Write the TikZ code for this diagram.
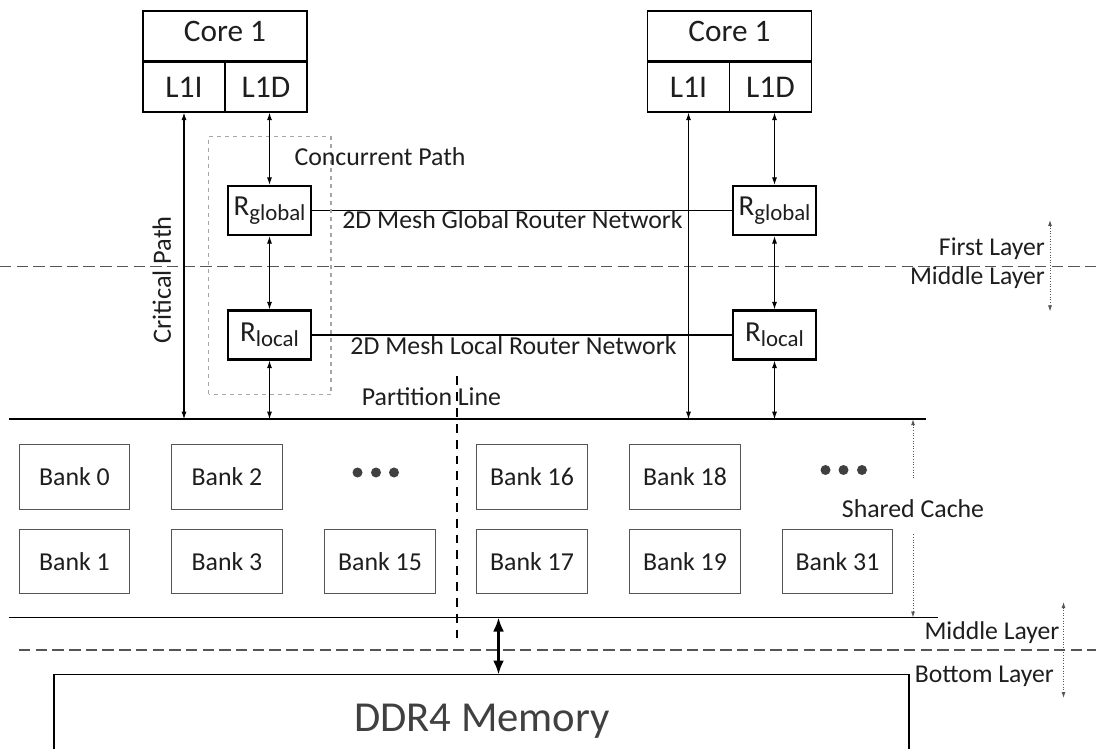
\documentclass[tikz,border=0pt]{standalone}
\usepackage{fontspec}
\setmainfont{Carlito}
\usetikzlibrary{arrows.meta,positioning}
\definecolor{inkgray}{HTML}{1E1E1E}
\definecolor{bankgray}{HTML}{555555}
\definecolor{memgray}{HTML}{404040}
\newcommand{\rsub}[1]{R\raisebox{-0.35ex}{\fontsize{13}{14}\selectfont #1}}

\begin{document}
\begin{tikzpicture}[
    every node/.style={text=inkgray, font=\fontsize{14.7}{17}\selectfont},
    cell/.style={draw=black, line width=0.8pt, inner sep=0pt, minimum height=0.99cm},
    router/.style={draw=black, line width=1.2pt, inner sep=0pt, minimum width=1.65cm,
        minimum height=0.98cm, font=\fontsize{16.5}{18}\selectfont},
    bankbox/.style={draw=bankgray, line width=0.8pt, minimum width=2.21cm, minimum height=1.29cm},
    link/.style={{Latex[length=1.5mm,width=1mm]}-{Latex[length=1.5mm,width=1mm]}, line width=0.6pt},
    span/.style={densely dotted, line width=0.5pt, bankgray},
    layerline/.style={dash pattern=on 6.5pt off 3pt, line width=0.6pt, bankgray},
    labeltxt/.style={font=\fontsize{14.6}{16}\selectfont}
]
    \useasboundingbox (0,0) rectangle (21.92,14.98);

    % Cores with L1 caches
    \node[cell, minimum width=3.28cm, minimum height=1.0cm, font=\fontsize{17.8}{20}\selectfont] (coreL) at (4.50,14.26) {\raisebox{0.6ex}{Core 1}};
    \node[cell, minimum width=1.64cm, anchor=north west, font=\fontsize{18}{20}\selectfont] (l1iL) at (coreL.south west) {L1I};
    \node[cell, minimum width=1.64cm, anchor=north east, font=\fontsize{18}{20}\selectfont] (l1dL) at (coreL.south east) {L1D};
    \node[cell, minimum width=3.28cm, minimum height=1.0cm, font=\fontsize{17.8}{20}\selectfont] (coreR) at (14.59,14.26) {\raisebox{0.6ex}{Core 1}};
    \node[cell, minimum width=1.64cm, anchor=north west, font=\fontsize{18}{20}\selectfont] (l1iR) at (coreR.south west) {L1I};
    \node[cell, minimum width=1.64cm, anchor=north east, font=\fontsize{18}{20}\selectfont] (l1dR) at (coreR.south east) {L1D};

    % Routers
    \node[router] (rgL) at (5.39,10.77) {\rsub{global}};
    \node[router] (rlL) at (5.39,8.28) {\rsub{local}};
    \node[router] (rgR) at (15.49,10.77) {\rsub{global}};
    \node[router] (rlR) at (15.49,8.28) {\rsub{local}};
    \draw[line width=0.7pt] (rgL.east) -- (rgR.west);
    \draw[line width=0.7pt] (rlL.east) -- (rlR.west);
    \node (meshG) at (10.25,10.58) {2D Mesh Global Router Network};
    \node (meshL) at (10.27,8.06) {2D Mesh Local Router Network};

    % Concurrent path box
    \draw[draw=black!35, dash pattern=on 2.3pt off 2.3pt, line width=0.6pt] (4.17,7.09) rectangle (6.62,12.25);
    \node (conc) at (7.60,11.85) {Concurrent Path};

    % Layer boundaries
    \coordinate (layTL) at (0,9.646);
    \coordinate (layTR) at (21.92,9.646);
    \coordinate (layBL) at (0.38,1.98);
    \coordinate (layBR) at (21.92,1.98);
    \draw[layerline] (layTL) -- (layTR);
    \draw[layerline] (layBL) -- (layBR);

    % Shared cache boundaries
    \coordinate (cacheTL) at (0.17,6.596);
    \coordinate (cacheTR) at (18.51,6.596);
    \coordinate (cacheBL) at (0.17,2.63);
    \coordinate (cacheBR) at (18.76,2.63);
    \draw[line width=0.8pt] (cacheTL) -- (cacheTR);
    \draw[line width=0.8pt] (cacheBL) -- (cacheBR);

    % Paths between cores, routers and cache
    \draw[link] (l1iL.south) -- (l1iL.south |- cacheTL);
    \draw[link] (l1iR.south) -- (l1iR.south |- cacheTL);
    \draw[link] (rgL.north |- l1dL.south) -- (rgL.north);
    \draw[link] (rgL.south) -- (rlL.north);
    \draw[link] (rlL.south) -- (rlL.south |- cacheTL);
    \draw[link] (rgR.north |- l1dR.south) -- (rgR.north);
    \draw[link] (rgR.south) -- (rlR.north);
    \draw[link] (rlR.south) -- (rlR.south |- cacheTL);
    \node[rotate=90, font=\fontsize{15}{17}\selectfont] (crit) at (3.234,9.38) {Critical Path};

    % Banks
    \node[bankbox] (b0) at (1.49,5.44) {Bank 0};
    \node[bankbox] (b1) at (1.49,3.75) {Bank 1};
    \node[bankbox] (b2) at (4.54,5.44) {Bank 2};
    \node[bankbox] (b3) at (4.54,3.75) {Bank 3};
    \node[bankbox] (b15) at (7.60,3.75) {Bank 15};
    \node[bankbox] (b16) at (10.64,5.44) {Bank 16};
    \node[bankbox] (b17) at (10.64,3.75) {Bank 17};
    \node[bankbox] (b18) at (13.70,5.44) {Bank 18};
    \node[bankbox] (b19) at (13.70,3.75) {Bank 19};
    \node[bankbox] (b31) at (16.75,3.75) {Bank 31};
    \fill[black!75] (7.15,5.53) circle (0.1) (7.52,5.53) circle (0.1) (7.88,5.53) circle (0.1);
    \fill[black!75] (16.51,5.58) circle (0.1) (16.87,5.58) circle (0.1) (17.24,5.58) circle (0.1);

    % Partition line
    \coordinate (partT) at (9.14,7.45);
    \coordinate (partB) at (9.14,2.22);
    \draw[dash pattern=on 5pt off 4pt, line width=0.6pt] (partT) -- (partB);
    \node (part) at (8.63,7.05) {Partition Line};

    % Shared cache extent
    \node (shared) at (18.26,4.80) {Shared Cache};
    \draw[span, {Latex[length=1.2mm,width=0.8mm]}-] (shared.north |- cacheTR) -- ([yshift=3mm]shared.north);
    \draw[span, -{Latex[length=1.2mm,width=0.8mm]}] ([yshift=-2mm]shared.south) -- (shared.south |- cacheBR);

    % Layer labels
    \node[labeltxt, anchor=east, inner sep=1pt] (first) at (20.94,10.01) {First Layer};
    \node[labeltxt, anchor=east, inner sep=1pt] (midA) at (20.94,9.42) {Middle Layer};
    \coordinate (spanAT) at (21.00,10.58);
    \coordinate (spanAB) at (21.00,8.75);
    \draw[span, {Latex[length=1.2mm,width=0.8mm]}-{Latex[length=1.2mm,width=0.8mm]}] (spanAT) -- (spanAB);
    \node[labeltxt, anchor=east, inner sep=1pt] (midB) at (21.23,2.33) {Middle Layer};
    \node[labeltxt, anchor=east, inner sep=1pt] (bottom) at (21.12,1.46) {Bottom Layer};
    \coordinate (spanBT) at (21.27,2.94);
    \coordinate (spanBB) at (21.27,1.02);
    \draw[span, {Latex[length=1.2mm,width=0.8mm]}-{Latex[length=1.2mm,width=0.8mm]}] (spanBT) -- (spanBB);

    % DDR4 memory
    \draw[line width=0.8pt] (1.08,0) |- (18.18,1.49) -- (18.18,0);
    \node[text=memgray, font=\fontsize{24.3}{27}\selectfont] (mem) at (9.64,0.55) {DDR4 Memory};
    \coordinate (memtop) at (9.97,1.49);
    \draw[line width=1.5pt, {Latex[length=2.8mm,width=2.2mm]}-{Latex[length=2.8mm,width=2.2mm]}] (memtop |- cacheBL) -- (memtop);
\end{tikzpicture}
\end{document}
